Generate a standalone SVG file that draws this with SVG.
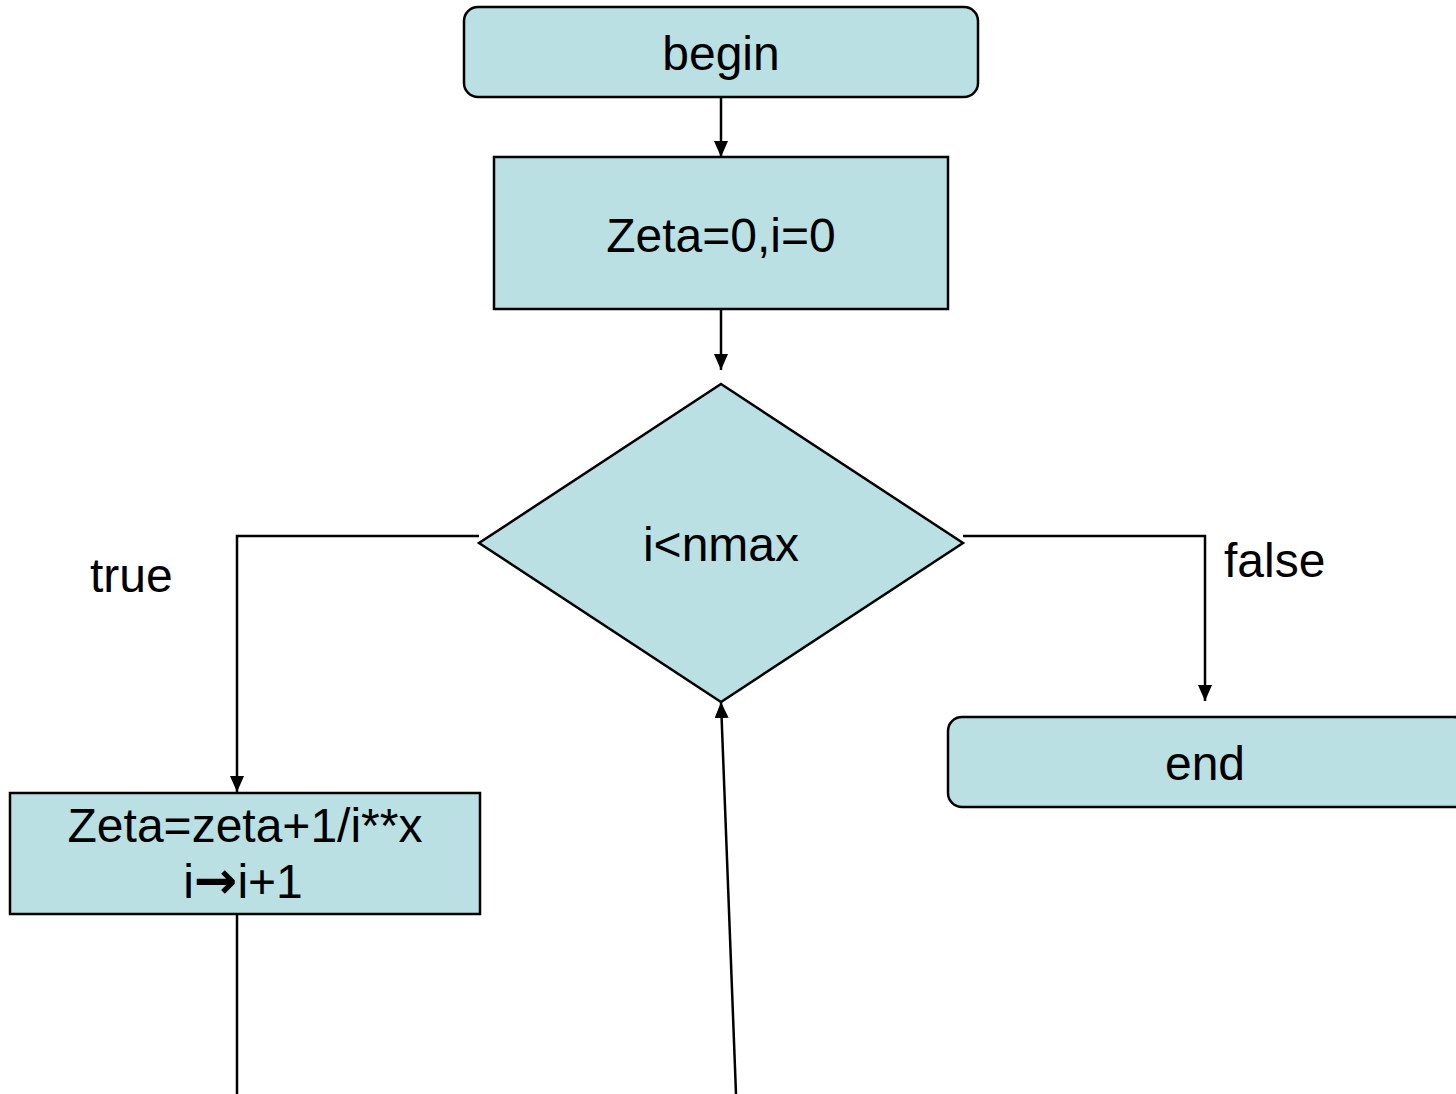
<svg xmlns="http://www.w3.org/2000/svg" width="1456" height="1094" viewBox="0 0 1456 1094">
<style>
.shape{fill:#BAE0E3;stroke:#000;stroke-width:2.5}
.lbl{font-family:"Liberation Sans",Arial,sans-serif;font-size:48px;fill:#000}
.c{text-anchor:middle}
.arr{font-family:"DejaVu Sans",sans-serif;font-size:52px;font-weight:bold}
.conn{fill:none;stroke:#000;stroke-width:2.5}
</style>
<defs>
<marker id="ah" markerUnits="userSpaceOnUse" markerWidth="16" markerHeight="16" viewBox="0 0 16 16" refX="16" refY="7" orient="auto">
<path d="M0,0 L16,7 L0,14 Z" fill="#000"/>
</marker>
</defs>
<rect width="1456" height="1094" fill="#fff"/>
<g id="connectors">
<line class="conn" x1="721" y1="97" x2="721" y2="157" marker-end="url(#ah)"/>
<line class="conn" x1="721" y1="309" x2="721" y2="370" marker-end="url(#ah)"/>
<polyline class="conn" points="479,536 237,536 237,792" marker-end="url(#ah)"/>
<polyline class="conn" points="963,536 1205,536 1205,701" marker-end="url(#ah)"/>
<line class="conn" x1="237" y1="914" x2="237" y2="1094"/>
<line class="conn" x1="736" y1="1094" x2="721" y2="702" marker-end="url(#ah)"/>
</g>
<g id="begin">
<rect class="shape" x="464" y="7" width="514" height="90" rx="14"/>
<text class="lbl c" x="721" y="70">begin</text>
</g>
<g id="init">
<rect class="shape" x="494" y="157" width="454" height="152"/>
<text class="lbl c" x="721" y="252">Zeta=0,i=0</text>
</g>
<g id="cond">
<polygon class="shape" points="721,384 963,543 721,702 479,543"/>
<text class="lbl c" x="721" y="561">i&lt;nmax</text>
</g>
<g id="update">
<rect class="shape" x="10" y="793" width="470" height="121"/>
<text class="lbl c" x="245" y="842">Zeta=zeta+1/i**x</text>
<text class="lbl c" x="243" y="898">i<tspan class="arr">→</tspan>i+1</text>
</g>
<g id="end">
<rect class="shape" x="948" y="717" width="520" height="90" rx="14"/>
<text class="lbl c" x="1205" y="780">end</text>
</g>
<g id="labels">
<text class="lbl" x="90" y="592">true</text>
<text class="lbl" x="1224" y="577">false</text>
</g>
</svg>
